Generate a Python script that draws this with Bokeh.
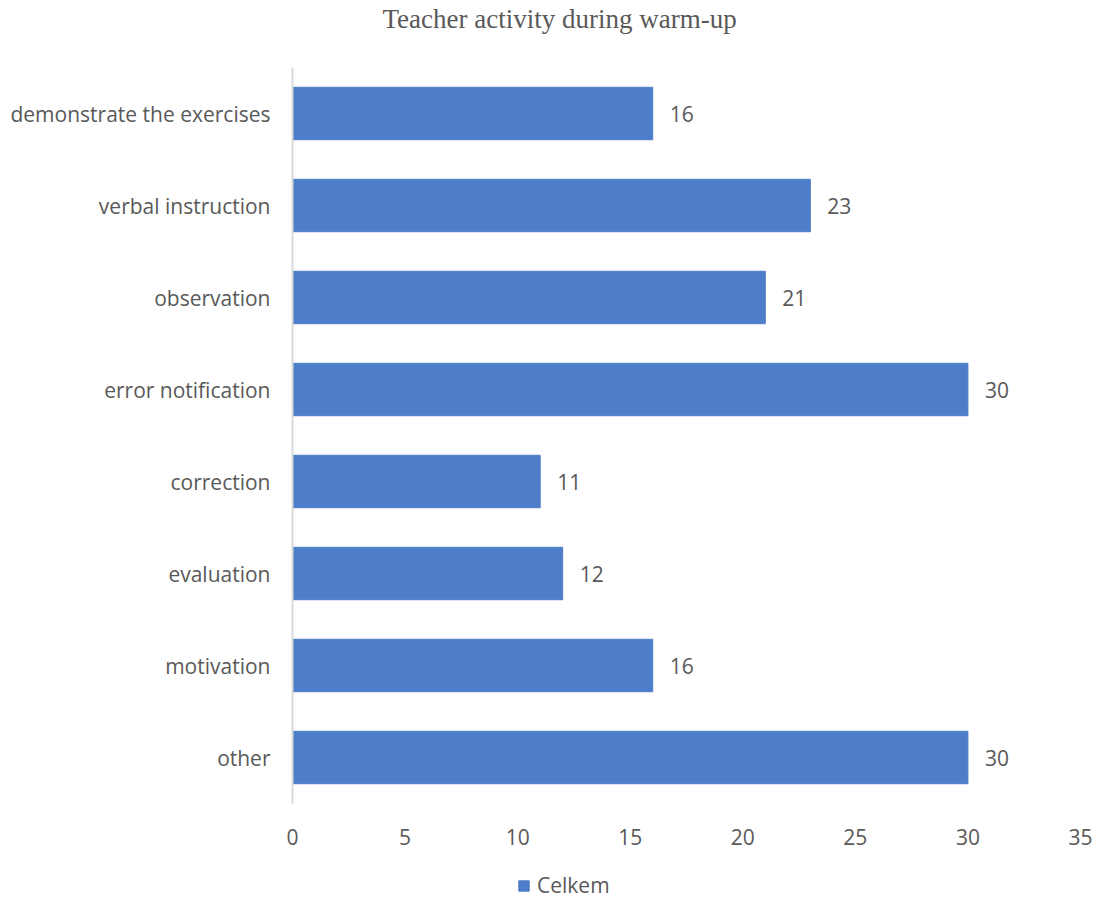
from bokeh.plotting import figure
from bokeh.models import FactorRange, Range1d, Legend, LegendItem, ColumnDataSource, FixedTicker, Title
from bokeh.layouts import column
from bokeh.embed import file_html
from bokeh.resources import INLINE
from bokeh.core.properties import value

categories = ["demonstrate the exercises", "verbal instruction", "observation",
              "error notification", "correction", "evaluation", "motivation", "other"]
counts = [16, 23, 21, 30, 11, 12, 16, 30]
x_ticks = [0, 5, 10, 15, 20, 25, 30, 35]
series_name = "Celkem"
title_text = "Teacher activity during warm-up"

BAR = "#4E7DC9"
TXT = "#595959"
FONT = "Open Sans"

p = figure(width=1100, height=852, output_backend="svg", toolbar_location=None,
           y_range=FactorRange(*reversed(categories), range_padding=0),
           x_range=Range1d(0, 35),
           min_border_left=292, min_border_right=20, min_border_top=0, min_border_bottom=49)
p.outline_line_color = None
p.background_fill_color = "white"
p.border_fill_color = "white"
p.xgrid.grid_line_color = None
p.ygrid.grid_line_color = None

p.title.text = title_text
p.title.align = "left"
p.title.offset = 90
p.title.standoff = 6
p.title.vertical_align = "top"
p.title.text_font = "Liberation Serif"
p.title.text_font_size = "27px"
p.title.text_font_style = "normal"
p.title.text_color = TXT
# spacing band between the title and the plot frame
p.add_layout(Title(text=" ", text_font_size="10px", standoff=16), "above")

src = ColumnDataSource(dict(cat=categories, val=counts, lab=[str(v) for v in counts]))
r = p.hbar(y="cat", right="val", left=0, height=0.57, source=src,
           fill_color=BAR, line_color=BAR, line_width=1)
p.text(x="val", y="cat", text="lab", source=src, x_offset=17,
       text_align="left", text_baseline="middle", text_color=TXT,
       text_font=value(FONT), text_font_size="21px")

xa = p.xaxis[0]
xa.ticker = FixedTicker(ticks=x_ticks)
xa.axis_line_color = None
xa.major_tick_line_color = None
xa.minor_tick_line_color = None
xa.major_label_text_font = FONT
xa.major_label_text_font_size = "21px"
xa.major_label_text_color = TXT
xa.major_label_standoff = 19

ya = p.yaxis[0]
ya.axis_line_color = "#D9D9D9"
ya.axis_line_width = 2
ya.major_tick_line_color = None
ya.minor_tick_line_color = None
ya.major_label_text_font = FONT
ya.major_label_text_font_size = "21px"
ya.major_label_text_color = TXT
ya.major_label_standoff = 16

# legend strip below the chart (its renderer maps to no factor here, so only the legend shows)
lf = figure(width=1100, height=47, output_backend="svg", toolbar_location=None,
            x_axis_location=None, y_axis_location=None,
            x_range=Range1d(0, 35),
            y_range=FactorRange("legend"),
            min_border_left=0, min_border_right=0, min_border_top=0, min_border_bottom=0)
lf.outline_line_color = None
lf.xgrid.grid_line_color = None
lf.ygrid.grid_line_color = None
lr = lf.hbar(y="cat", right="val", left=0, height=0.57, source=src,
             fill_color=BAR, line_color=BAR)
legend = Legend(items=[LegendItem(label=series_name, renderers=[lr])],
                location=(225, 0), orientation="horizontal",
                label_text_font=FONT, label_text_font_size="21px", label_text_color=TXT,
                glyph_width=13, glyph_height=13, label_standoff=7,
                padding=0, margin=0, border_line_color=None, background_fill_alpha=0)
lf.add_layout(legend, "center")

open("out.html", "w").write(file_html(column(p, lf, spacing=0), INLINE))
